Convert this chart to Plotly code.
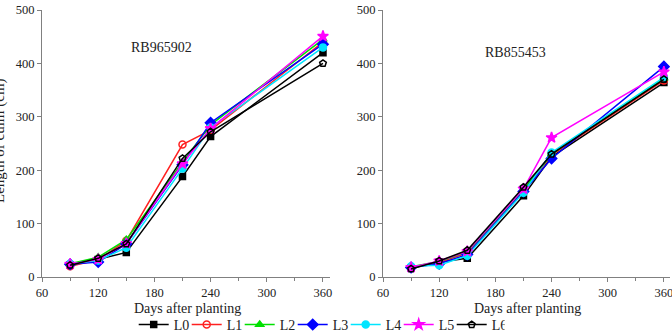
import plotly.graph_objects as go

days = [90, 120, 150, 210, 240, 360]
series_names = ["L0", "L1", "L2", "L3", "L4", "L5", "L6"]

rb965902 = {
    "L0": [23, 33, 46, 188, 263, 420],
    "L1": [20, 32, 68, 248, 275, 440],
    "L2": [25, 37, 70, 215, 285, 445],
    "L3": [24, 28, 62, 210, 289, 436],
    "L4": [25, 31, 55, 203, 280, 430],
    "L5": [24, 33, 63, 212, 278, 451],
    "L6": [22, 35, 62, 222, 272, 400],
}
rb855453 = {
    "L0": [17, 28, 35, 152, 225, 364],
    "L1": [18, 27, 45, 162, 228, 368],
    "L2": [19, 29, 47, 163, 230, 372],
    "L3": [18, 25, 42, 160, 222, 394],
    "L4": [20, 22, 40, 158, 233, 374],
    "L5": [18, 30, 48, 165, 261, 384],
    "L6": [15, 30, 50, 168, 230, 370],
}

x_ticks = [60, 120, 180, 240, 300, 360]
y_ticks = [0, 100, 200, 300, 400, 500]

colors = {"L0": "#000000", "L1": "#ff2020", "L2": "#00e000", "L3": "#0000ff",
          "L4": "#00e5ff", "L5": "#ff00ff", "L6": "#000000"}
symbols = {"L0": "square", "L1": "circle-open", "L2": "triangle-up", "L3": "diamond",
           "L4": "circle", "L5": "star", "L6": "pentagon-open"}
sizes = {"L0": 6, "L1": 7, "L2": 7, "L3": 8, "L4": 7, "L5": 8, "L6": 7}

FONT = "Liberation Serif"
W, H = 672, 333

fig = go.Figure()
for i, (data, xa, ya) in enumerate([(rb965902, "x", "y"), (rb855453, "x2", "y2")]):
    for name in series_names:
        fig.add_trace(go.Scatter(
            x=days, y=data[name], mode="lines+markers", name=name,
            xaxis=xa, yaxis=ya, showlegend=(i == 0),
            line=dict(color=colors[name], width=1.5),
            marker=dict(symbol=symbols[name], size=sizes[name], color=colors[name],
                        line=dict(color=colors[name], width=1.5)),
        ))

def px_x(p):
    return p / W

def px_y(p):
    return 1 - p / H

axis_common = dict(
    showline=True, linecolor="#808080", linewidth=1, ticks="outside",
    tickcolor="#808080", ticklen=4, showgrid=False, zeroline=False,
    automargin=False, ticklabeloverflow="allow",
    tickfont=dict(family=FONT, size=12.5, color="#222222"),
)
minor_x = dict(ticks="outside", dtick=30, tick0=60, ticklen=3, tickcolor="#808080")

txt = dict(family=FONT, size=14, color="#222222")

fig.update_layout(
    width=W, height=H,
    margin=dict(l=0, r=0, t=0, b=0, autoexpand=False),
    paper_bgcolor="white", plot_bgcolor="white",
    font=dict(family=FONT, color="#222222"),
    xaxis=dict(domain=[px_x(42), px_x(330)], range=[60, 367.5], tickvals=x_ticks,
               minor=minor_x, anchor="y", **axis_common),
    yaxis=dict(domain=[px_y(277), px_y(10)], range=[0, 500], tickvals=y_ticks, anchor="x",
               **axis_common),
    xaxis2=dict(domain=[px_x(383), px_x(670)], range=[60, 366.5], tickvals=x_ticks,
                minor=minor_x, anchor="y2", **axis_common),
    yaxis2=dict(domain=[px_y(277), px_y(10)], range=[0, 500], tickvals=y_ticks, anchor="x2",
                **axis_common),
    legend=dict(orientation="h", x=0.475, xanchor="center", y=px_y(325), yanchor="middle",
                font=dict(family=FONT, size=14, color="#222222"),
                entrywidth=8, itemwidth=30, bgcolor="rgba(0,0,0,0)",
                tracegroupgap=0),
    annotations=[
        dict(text="RB965902", x=px_x(161), y=px_y(48), xref="paper", yref="paper",
             xanchor="center", yanchor="middle", showarrow=False, font=txt),
        dict(text="RB855453", x=px_x(515), y=px_y(52), xref="paper", yref="paper",
             xanchor="center", yanchor="middle", showarrow=False, font=txt),
        dict(text="Days after planting", x=px_x(187), y=px_y(308), xref="paper", yref="paper",
             xanchor="center", yanchor="middle", showarrow=False, font=txt),
        dict(text="Days after planting", x=px_x(527), y=px_y(308), xref="paper", yref="paper",
             xanchor="center", yanchor="middle", showarrow=False, font=txt),
        dict(text="Length of culm (cm)", x=px_x(-1), y=px_y(141), xref="paper", yref="paper",
             showarrow=False, textangle=-90, xanchor="center", yanchor="middle",
             font=dict(family=FONT, size=15, color="#222222")),
    ],
)

fig.write_html("out.html")
